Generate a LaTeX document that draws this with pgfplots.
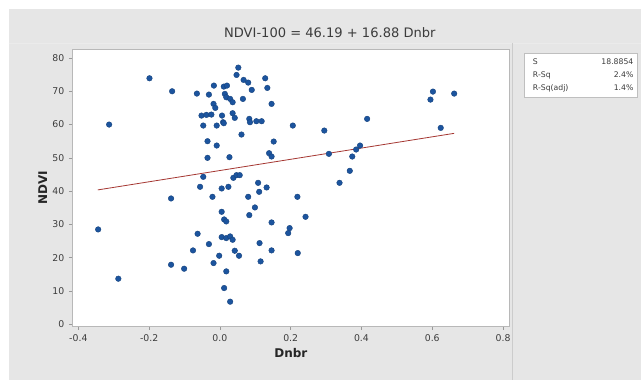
\documentclass[border=0pt]{standalone}
\usepackage{pgfplots}
\pgfplotsset{compat=1.18}
\usepackage{fontspec}
\setmainfont{DejaVu Sans}
\definecolor{bg}{RGB}{230,230,230}
\definecolor{pt}{RGB}{28,84,158}
\definecolor{fit}{RGB}{165,55,50}
\definecolor{txt}{RGB}{60,60,60}
\begin{document}
\begin{tikzpicture}
\fill[white] (0,0) rectangle (480.75pt,285pt);
\fill[bg] (6.75pt,0) rectangle (480.75pt,278.25pt);
\draw[white!92!black,line width=0.5pt] (6.75pt,252.75pt) -- (480.75pt,252.75pt);
\draw[white!80!black,line width=0.6pt] (384.75pt,252.75pt) -- (384.75pt,0);
\node[anchor=center,text=txt,font=\fontsize{9.8}{12}\selectfont] at (247.5pt,260.25pt) {NDVI-100 = 46.19 + 16.88 Dnbr};
\draw[white!75!black,fill=white,line width=0.4pt] (393.75pt,245.25pt) rectangle (478.5pt,212.25pt);
\begin{scope}[every node/.style={font=\fontsize{5.8}{7}\selectfont,text=txt,inner sep=0pt}]
\node[anchor=west] at (399.75pt,238.5pt) {S};
\node[anchor=east] at (475.5pt,238.5pt) {18.8854};
\node[anchor=west] at (399.75pt,228.75pt) {R-Sq};
\node[anchor=east] at (475.5pt,228.75pt) {2.4\%};
\node[anchor=west] at (399.75pt,219pt) {R-Sq(adj)};
\node[anchor=east] at (475.5pt,219pt) {1.4\%};
\end{scope}
\begin{axis}[
  at={(54pt,39.75pt)}, anchor=south west,
  width=328.5pt, height=208.5pt, scale only axis,
  xmin=-0.418, xmax=0.819, ymin=-0.75, ymax=82.7,
  xtick={-0.4,-0.2,0,0.2,0.4,0.6,0.8},
  ytick={0,10,20,30,40,50,60,70,80},
  xticklabel style={/pgf/number format/.cd,fixed,fixed zerofill,precision=1},
  /pgf/number format/assume math mode=true,
  tick label style={font=\fontsize{7}{8}\selectfont,text=txt},
  tick pos=left, tick align=outside,
  major tick length=2.25pt,
  tick style={white!60!black,line width=0.4pt},
  axis line style={white!72!black,line width=0.5pt},
  axis background/.style={fill=white},
  xlabel={\textbf{Dnbr}}, ylabel={\textbf{NDVI}},
  label style={font=\fontsize{9}{10}\selectfont,text=black!85},
  xlabel style={yshift=2pt},
  ylabel style={yshift=-3pt},
  clip=false,
]
\addplot[fit,line width=0.6pt] coordinates {(-0.345,40.37) (0.662,57.36)};
\addplot[only marks,mark=*,mark size=2.1pt,mark options={fill=pt,draw=pt!80!black,line width=0.3pt}] coordinates {
(-0.199,73.9) (-0.135,70.0) (-0.313,60.0) (-0.065,69.3) (-0.031,69.0)
(-0.017,71.7) (0.011,71.4) (0.020,71.7) (0.052,77.1) (0.047,74.9)
(0.067,73.4) (0.080,72.6) (0.128,73.9) (0.134,71.0) (0.090,70.4)
(0.014,69.2) (0.018,68.2) (0.029,67.7) (0.065,67.7) (0.036,66.7)
(0.146,66.2) (-0.018,66.2) (-0.013,65.0) (-0.052,62.7) (-0.038,62.9)
(-0.024,63.0) (0.006,62.7) (0.009,60.7) (0.036,63.4) (0.042,62.0)
(-0.047,59.7) (-0.009,59.7) (0.011,60.4) (0.083,61.7) (0.085,60.7)
(0.103,61.0) (0.118,61.0) (0.206,59.7) (0.061,57.0) (-0.035,55.0)
(-0.009,53.7) (0.152,54.9) (0.139,51.4) (0.146,50.4) (-0.035,50.0)
(0.027,50.2) (-0.047,44.3) (0.038,44.0) (0.047,44.8) (0.056,44.8)
(-0.056,41.3) (0.005,40.8) (0.024,41.3) (0.108,42.5) (0.132,41.1)
(0.111,39.8) (0.219,38.3) (-0.138,37.8) (-0.021,38.3) (0.080,38.3)
(0.005,33.8) (0.099,35.1) (0.083,32.8) (0.012,31.5) (0.018,30.9)
(0.146,30.6) (-0.344,28.5) (-0.063,27.2) (0.005,26.2) (0.018,25.9)
(0.029,26.4) (0.036,25.4) (0.197,28.9) (0.193,27.4) (-0.031,24.1)
(0.112,24.4) (-0.076,22.2) (-0.002,20.6) (0.042,22.1) (0.054,20.6)
(0.146,22.2) (0.220,21.4) (-0.018,18.4) (0.115,18.9) (-0.138,17.9)
(-0.101,16.7) (-0.287,13.7) (0.018,15.9) (0.012,10.9) (0.029,6.8)
(0.602,69.9) (0.595,67.5) (0.662,69.3) (0.624,59.0) (0.416,61.7)
(0.295,58.2) (0.308,51.2) (0.396,53.7) (0.385,52.5) (0.374,50.4)
(0.367,46.1) (0.338,42.5) (0.242,32.3)
};
\end{axis}
\end{tikzpicture}
\end{document}
